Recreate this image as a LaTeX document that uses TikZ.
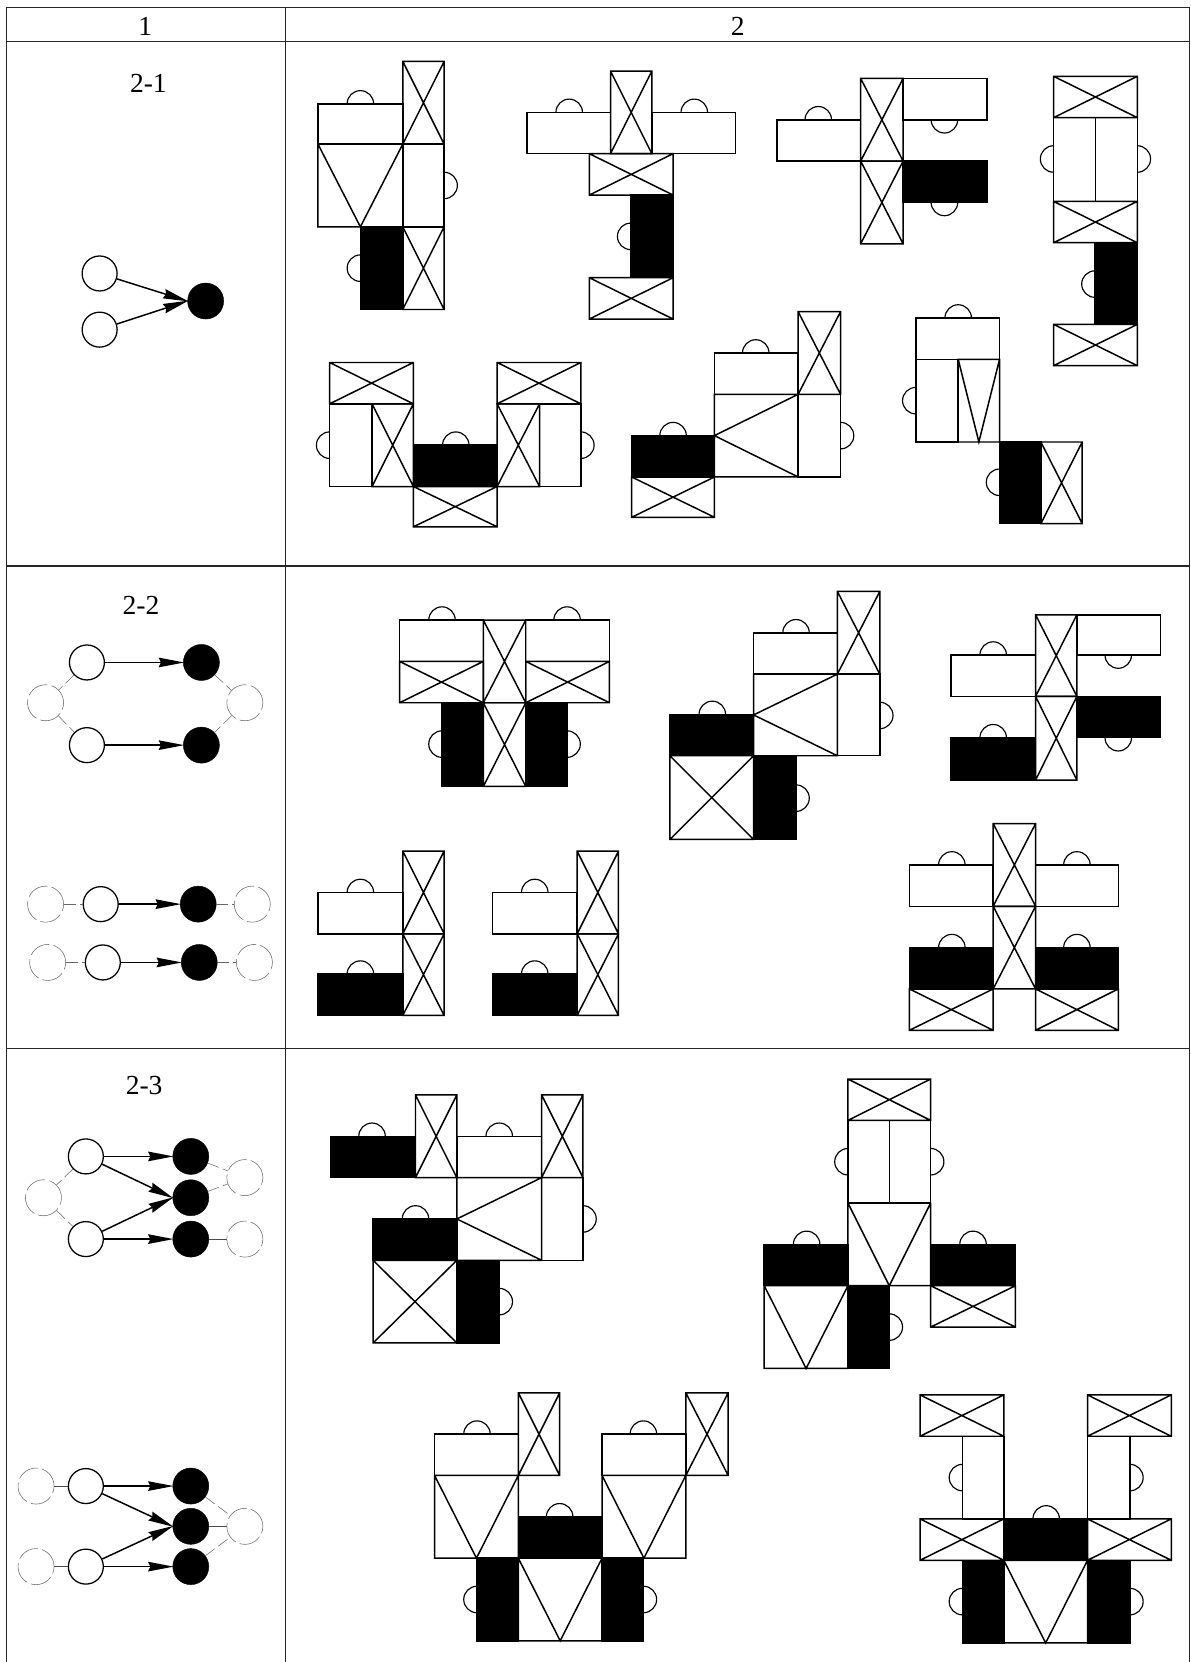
\documentclass[tikz,border=0pt]{standalone}
\usepackage{fontspec}
\setmainfont{Liberation Serif}
\usetikzlibrary{arrows.meta}
\newcommand{\cellplain}[4]{\draw[cellline] (#1,#2) rectangle (#3,#4);}
\newcommand{\cellcross}[4]{\draw[cellline] (#1,#2) rectangle (#3,#4) (#1,#2) -- (#3,#4) (#1,#4) -- (#3,#2);}
\newcommand{\cellblack}[4]{\draw[cellline, fill=black] (#1,#2) rectangle (#3,#4);}
\newcommand{\cellsplit}[4]{\draw[cellline] (#1,#2) rectangle (#3,#4) ({(#1+#3)/2},#2) -- ({(#1+#3)/2},#4);}
\newcommand{\cellfunnel}[4]{\draw[cellline] (#1,#2) rectangle (#3,#4) (#1,#2) -- ({(#1+#3)/2},#4) -- (#3,#2);}
\newcommand{\cellwedge}[4]{\draw[cellline] (#1,#2) rectangle (#3,#4) (#3,#2) -- (#1,{(#2+#4)/2}) -- (#3,#4);}
\newcommand{\knob}[3]{\draw[knobline] (#1,#2) ++(#3+90:12.5) arc[start angle=#3+90, delta angle=-180, radius=12.5];}

\begin{document}
\begin{tikzpicture}[
    x=1pt, y=-1pt,
    tableline/.style={line width=1.3pt, black!85},
    cellline/.style={line width=1.4pt, line join=miter},
    knobline/.style={line width=1.1pt},
    titlelabel/.style={font=\fontsize{26}{30}\selectfont, inner sep=0pt},
    whitenode/.style={circle, draw, line width=1.2pt, fill=white, minimum size=33pt, inner sep=0pt},
    blacknode/.style={circle, draw, fill=black, minimum size=34pt, inner sep=0pt},
    ghostnode/.style={circle, draw=black!60, line width=0.5pt, dash pattern=on 21pt off 4pt, minimum size=34pt, inner sep=0pt},
    arr/.style={-{Stealth[length=24pt, width=9pt, inset=2pt]}, line width=1.4pt, shorten >=-1pt},
    ghostlink/.style={draw=black!60, line width=0.5pt, dash pattern=on 11pt off 4pt},
    thinlink/.style={draw=black!70, line width=0.6pt}
]
    \useasboundingbox (0,0) rectangle (1123,1568);

    \draw[tableline] (6,1568) -- (6,7) -- (1122.5,7) -- (1122.5,1568);
    \draw[tableline] (6,39) -- (1122.5,39);
    \draw[tableline] (6,534) -- (1122.5,534);
    \draw[tableline] (6,989) -- (1122.5,989);
    \draw[tableline] (269.5,7) -- (269.5,1568);

    \node[titlelabel] (head1) at (137,25) {1};
    \node[titlelabel] (head2) at (696,25) {2};
    \node[titlelabel] (row1) at (140,79) {2-1};
    \node[titlelabel] (row2) at (133,571) {2-2};
    \node[titlelabel] (row3) at (136,1024) {2-3};

    \node[whitenode] (a1) at (94,258) {};
    \node[whitenode] (a2) at (94,311) {};
    \node[blacknode] (a3) at (194,284) {};
    \draw[arr] (a1) -- (a3.west);
    \draw[arr] (a2) -- (a3.west);

    \node[whitenode] (b1) at (82,625) {};
    \node[whitenode] (b2) at (82,703) {};
    \node[blacknode] (b3) at (190,625) {};
    \node[blacknode] (b4) at (190,703) {};
    \node[ghostnode] (b5) at (43,663) {};
    \node[ghostnode] (b6) at (231,663) {};
    \draw[arr] (b1) -- (b3);
    \draw[arr] (b2) -- (b4);
    \draw[ghostlink] (b1) -- (b5);
    \draw[ghostlink] (b5) -- (b2);
    \draw[ghostlink] (b3) -- (b6);
    \draw[ghostlink] (b6) -- (b4);

    \node[ghostnode] (c1) at (43,853) {};
    \node[whitenode] (c2) at (95,853) {};
    \node[blacknode] (c3) at (187,853) {};
    \node[ghostnode] (c4) at (238,853) {};
    \draw[ghostlink] (c1) -- (c2);
    \draw[arr] (c2) -- (c3);
    \draw[ghostlink] (c3) -- (c4);

    \node[ghostnode] (d1) at (45,908) {};
    \node[whitenode] (d2) at (97,908) {};
    \node[blacknode] (d3) at (188,908) {};
    \node[ghostnode] (d4) at (240,908) {};
    \draw[ghostlink] (d1) -- (d2);
    \draw[arr] (d2) -- (d3);
    \draw[ghostlink] (d3) -- (d4);

    \node[whitenode] (e1) at (81,1091) {};
    \node[whitenode] (e2) at (81,1169) {};
    \node[blacknode] (e3) at (180,1091) {};
    \node[blacknode] (e4) at (180,1130) {};
    \node[blacknode] (e5) at (180,1169) {};
    \node[ghostnode] (e6) at (41,1130) {};
    \node[ghostnode] (e7) at (231,1111) {};
    \node[ghostnode] (e8) at (231,1169) {};
    \draw[arr] (e1) -- (e3);
    \draw[arr] (e1) -- (e4.west);
    \draw[arr] (e2) -- (e4.west);
    \draw[arr] (e2) -- (e5);
    \draw[ghostlink] (e1) -- (e6);
    \draw[ghostlink] (e6) -- (e2);
    \draw[ghostlink] (e3) -- (e7);
    \draw[ghostlink] (e4) -- (e7);
    \draw[thinlink] (e5) -- (e8);

    \node[ghostnode] (f1) at (34,1402) {};
    \node[ghostnode] (f2) at (34,1478) {};
    \node[whitenode] (f3) at (81,1402) {};
    \node[whitenode] (f4) at (81,1478) {};
    \node[blacknode] (f5) at (180,1402) {};
    \node[blacknode] (f6) at (180,1440) {};
    \node[blacknode] (f7) at (180,1478) {};
    \node[ghostnode] (f8) at (231,1440) {};
    \draw[thinlink] (f1) -- (f3);
    \draw[thinlink] (f2) -- (f4);
    \draw[arr] (f3) -- (f5);
    \draw[arr] (f3) -- (f6.west);
    \draw[arr] (f4) -- (f6.west);
    \draw[arr] (f4) -- (f7);
    \draw[ghostlink] (f5) -- (f8);
    \draw[thinlink] (f6) -- (f8);
    \draw[ghostlink] (f7) -- (f8);

    \cellcross{380}{58}{419}{136}
    \cellplain{300}{98}{380}{136}
    \cellfunnel{300}{136}{380}{214}
    \cellplain{380}{136}{419}{214}
    \cellblack{340}{214}{380}{292}
    \cellcross{380}{214}{419}{292}
    \knob{340}{98}{-90}
    \knob{419}{175}{0}
    \knob{340}{253}{180}

    \cellplain{497}{106}{576}{145}
    \cellcross{576}{67}{615}{145}
    \cellplain{615}{106}{694}{145}
    \cellcross{556}{145}{635}{184}
    \cellblack{595}{184}{635}{262}
    \cellcross{556}{262}{635}{301}
    \knob{537}{106}{-90}
    \knob{655}{106}{-90}
    \knob{595}{223}{180}

    \cellplain{733}{113}{812}{152}
    \cellcross{812}{74}{852}{152}
    \cellplain{852}{74}{931}{113}
    \cellcross{812}{152}{852}{230}
    \cellblack{852}{152}{931}{191}
    \knob{772}{113}{-90}
    \knob{891}{113}{90}
    \knob{891}{191}{90}

    \cellcross{994}{72}{1073}{111}
    \cellsplit{994}{111}{1073}{190}
    \cellcross{994}{190}{1073}{229}
    \cellblack{1033}{229}{1073}{306}
    \cellcross{994}{306}{1073}{345}
    \knob{994}{150}{180}
    \knob{1073}{150}{0}
    \knob{1033}{268}{180}

    \cellcross{311}{342}{390}{381}
    \cellplain{311}{381}{351}{459}
    \cellcross{351}{381}{390}{459}
    \cellblack{390}{420}{469}{459}
    \cellcross{390}{459}{469}{497}
    \cellcross{469}{381}{509}{459}
    \cellplain{509}{381}{548}{459}
    \cellcross{469}{342}{548}{381}
    \knob{311}{420}{180}
    \knob{430}{420}{-90}
    \knob{548}{420}{0}

    \cellblack{596}{411}{674}{450}
    \cellcross{596}{450}{674}{488}
    \cellplain{674}{333}{753}{372}
    \cellcross{753}{294}{793}{372}
    \cellwedge{674}{372}{753}{450}
    \cellplain{753}{372}{793}{450}
    \knob{635}{411}{-90}
    \knob{713}{333}{-90}
    \knob{793}{411}{0}

    \cellplain{864}{300}{943}{339}
    \cellplain{864}{339}{904}{417}
    \cellfunnel{904}{339}{943}{417}
    \cellblack{943}{417}{982}{494}
    \cellcross{982}{417}{1021}{494}
    \knob{904}{300}{-90}
    \knob{864}{378}{180}
    \knob{943}{455}{180}

    \cellplain{377}{585}{456}{624}
    \cellcross{377}{624}{456}{663}
    \cellcross{456}{585}{496}{663}
    \cellplain{496}{585}{575}{624}
    \cellcross{496}{624}{575}{663}
    \cellblack{417}{663}{456}{742}
    \cellcross{456}{663}{496}{742}
    \cellblack{496}{663}{535}{742}
    \knob{417}{585}{-90}
    \knob{535}{585}{-90}
    \knob{417}{702}{180}
    \knob{535}{702}{0}

    \cellcross{790}{558}{830}{636}
    \cellplain{711}{597}{790}{636}
    \cellwedge{711}{636}{790}{713}
    \cellplain{790}{636}{830}{713}
    \cellblack{632}{674}{711}{713}
    \cellcross{632}{713}{711}{792}
    \cellblack{711}{713}{751}{792}
    \knob{751}{597}{-90}
    \knob{830}{675}{0}
    \knob{672}{674}{-90}
    \knob{751}{753}{0}

    \cellplain{897}{618}{977}{657}
    \cellcross{977}{580}{1016}{657}
    \cellplain{1016}{580}{1095}{618}
    \cellcross{977}{657}{1016}{736}
    \cellblack{1016}{657}{1095}{696}
    \cellblack{897}{696}{977}{736}
    \knob{937}{618}{-90}
    \knob{1055}{618}{90}
    \knob{1055}{696}{90}
    \knob{937}{696}{-90}

    \foreach \dx in {0,164.5} {
        \cellcross{380+\dx}{803}{419+\dx}{881}
        \cellplain{300+\dx}{842}{380+\dx}{881}
        \cellcross{380+\dx}{881}{419+\dx}{958}
        \cellblack{300+\dx}{919}{380+\dx}{958}
        \knob{340+\dx}{842}{-90}
        \knob{340+\dx}{919}{-90}
    }

    \cellcross{937}{777}{977}{855}
    \cellplain{858}{816}{937}{855}
    \cellplain{977}{816}{1055}{855}
    \cellcross{937}{855}{977}{933}
    \cellblack{858}{894}{937}{933}
    \cellblack{977}{894}{1055}{933}
    \cellcross{858}{933}{937}{972}
    \cellcross{977}{933}{1055}{972}
    \knob{898}{816}{-90}
    \knob{1016}{816}{-90}
    \knob{898}{894}{-90}
    \knob{1016}{894}{-90}

    \cellblack{312}{1072}{392}{1111}
    \cellcross{392}{1033}{431}{1111}
    \cellplain{431}{1072}{511}{1111}
    \cellcross{511}{1033}{550}{1111}
    \cellwedge{431}{1111}{511}{1189}
    \cellplain{511}{1111}{550}{1189}
    \cellblack{352}{1150}{431}{1189}
    \cellcross{352}{1189}{431}{1267}
    \cellblack{431}{1189}{471}{1267}
    \knob{351}{1072}{-90}
    \knob{471}{1072}{-90}
    \knob{550}{1150}{0}
    \knob{392}{1150}{-90}
    \knob{471}{1228}{0}

    \cellcross{800}{1018}{878}{1057}
    \cellsplit{800}{1057}{878}{1135}
    \cellfunnel{800}{1135}{878}{1213}
    \cellblack{721}{1174}{800}{1213}
    \cellblack{878}{1174}{958}{1213}
    \cellfunnel{721}{1213}{800}{1291}
    \cellblack{800}{1213}{839}{1291}
    \cellcross{878}{1213}{958}{1252}
    \knob{800}{1096}{180}
    \knob{878}{1096}{0}
    \knob{761}{1174}{-90}
    \knob{918}{1174}{-90}
    \knob{839}{1252}{0}

    \cellplain{410}{1353}{489}{1392}
    \cellcross{489}{1314}{528}{1392}
    \cellfunnel{410}{1392}{489}{1470}
    \cellblack{489}{1431}{568}{1470}
    \cellplain{568}{1353}{647}{1392}
    \cellcross{647}{1314}{687}{1392}
    \cellfunnel{568}{1392}{647}{1470}
    \cellblack{450}{1470}{489}{1548}
    \cellfunnel{489}{1470}{568}{1548}
    \cellblack{568}{1470}{607}{1548}
    \knob{450}{1353}{-90}
    \knob{528}{1431}{-90}
    \knob{607}{1353}{-90}
    \knob{450}{1509}{180}
    \knob{607}{1509}{0}

    \cellcross{868}{1316}{947}{1355}
    \cellplain{908}{1355}{947}{1433}
    \cellcross{1026}{1316}{1105}{1355}
    \cellplain{1026}{1355}{1066}{1433}
    \cellcross{868}{1433}{947}{1472}
    \cellblack{947}{1433}{1026}{1472}
    \cellcross{1026}{1433}{1105}{1472}
    \cellblack{908}{1472}{947}{1550}
    \cellfunnel{947}{1472}{1026}{1550}
    \cellblack{1026}{1472}{1066}{1550}
    \knob{908}{1394}{180}
    \knob{1066}{1394}{0}
    \knob{987}{1433}{-90}
    \knob{908}{1511}{180}
    \knob{1066}{1511}{0}
\end{tikzpicture}
\end{document}
